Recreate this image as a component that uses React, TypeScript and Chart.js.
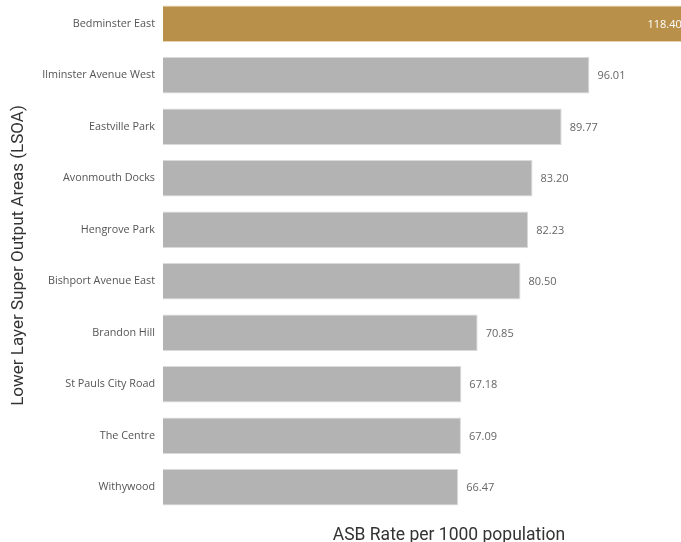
import React, { useEffect, useRef } from "react";
import { Chart, registerables } from "chart.js";

Chart.register(...registerables);

const categories = [
  "Bedminster East",
  "Ilminster Avenue West",
  "Eastville Park",
  "Avonmouth Docks",
  "Hengrove Park",
  "Bishport Avenue East",
  "Brandon Hill",
  "St Pauls City Road",
  "The Centre",
  "Withywood",
];
const values = [118.4, 96.01, 89.77, 83.2, 82.23, 80.5, 70.85, 67.18, 67.09, 66.47];
const highlightIndex = 0;
const xTitle = "ASB Rate per 1000 population";
const yTitle = "Lower Layer Super Output Areas (LSOA)";

const GOLD = "#b8904a";
const GOLD_BORDER = "#e6d3ad";
const GRAY = "#b3b3b3";
const GRAY_BORDER = "#dadada";

const labelPlugin = {
  id: "valueLabels",
  afterDatasetsDraw(chart: any) {
    const ctx = chart.ctx;
    const meta = chart.getDatasetMeta(0);
    ctx.save();
    ctx.font = "11px 'Open Sans', sans-serif";
    ctx.textBaseline = "middle";
    meta.data.forEach((bar: any, i: number) => {
      const txt = values[i].toFixed(2);
      if (i === highlightIndex) {
        ctx.fillStyle = "#ffffff";
        ctx.textAlign = "right";
        ctx.fillText(txt, bar.x - 7, bar.y + 1);
      } else {
        ctx.fillStyle = "#666666";
        ctx.textAlign = "left";
        ctx.fillText(txt, bar.x + 8, bar.y + 1);
      }
    });
    ctx.restore();
  },
};

export default function App() {
  const ref = useRef<HTMLCanvasElement>(null);
  useEffect(() => {
    if (!ref.current) return;
    const chart = new Chart(ref.current, {
      type: "bar",
      data: {
        labels: categories,
        datasets: [
          {
            data: values,
            backgroundColor: values.map((_, i) => (i === highlightIndex ? GOLD : GRAY)),
            borderColor: values.map((_, i) => (i === highlightIndex ? GOLD_BORDER : GRAY_BORDER)),
            borderWidth: 1,
            barPercentage: 0.71,
            categoryPercentage: 1,
          },
        ],
      },
      options: {
        indexAxis: "y",
        animation: false,
        responsive: true,
        maintainAspectRatio: false,
        layout: { padding: 0 },
        plugins: {
          legend: { display: false },
          tooltip: { enabled: false },
        },
        scales: {
          x: {
            min: 0,
            max: 128.8,
            grid: { display: false, drawTicks: false },
            border: { display: false },
            ticks: { display: false },
            title: {
              display: true,
              text: xTitle,
              color: "#333333",
              font: { family: "Roboto, sans-serif", size: 17.5 },
              padding: { top: 0, bottom: -2 },
            },
            afterFit: (s: any) => {
              s.height = 31;
              s.paddingLeft = 0;
              s.paddingRight = 0;
            },
          },
          y: {
            grid: { display: false, drawTicks: false },
            border: { display: false },
            ticks: {
              color: "#555555",
              font: { family: "'Open Sans', sans-serif", size: 10.8 },
              padding: 8,
            },
            title: {
              display: true,
              text: yTitle,
              color: "#333333",
              font: { family: "Roboto, sans-serif", size: 17 },
              padding: { top: 9, bottom: 0 },
            },
            afterFit: (s: any) => {
              s.width = 163;
              s.paddingTop = 0;
              s.paddingBottom = 0;
            },
          },
        },
      },
      plugins: [labelPlugin],
    });
    return () => chart.destroy();
  }, []);
  return (
    <div
      style={{
        position: "absolute",
        left: 0,
        top: 0,
        width: 681,
        height: 542,
        overflow: "hidden",
        background: "#ffffff",
      }}
    >
      <div style={{ position: "absolute", left: 0, top: -2, width: 735, height: 546 }}>
        <canvas ref={ref} />
      </div>
    </div>
  );
}
